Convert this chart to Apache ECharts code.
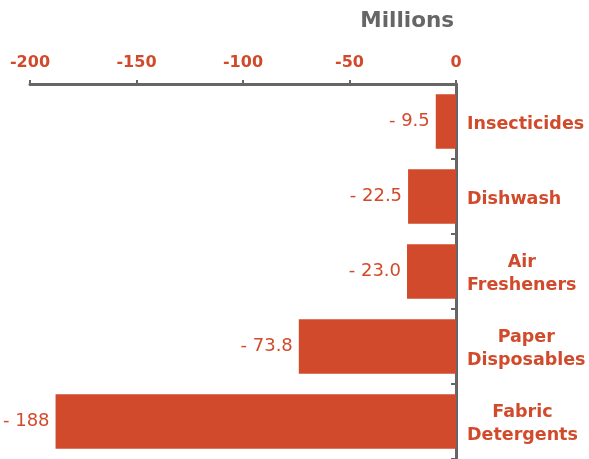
<!DOCTYPE html>
<html>
<head>
<meta charset="utf-8">
<script src="https://cdn.jsdelivr.net/npm/echarts@6/dist/echarts.min.js"></script>
<style>html,body{margin:0;padding:0;background:#fff}#c{width:589px;height:459px}</style>
</head>
<body>
<div id="c"></div>
<script>
const categories = ['Insecticides', 'Dishwash', 'Air\nFresheners', 'Paper\nDisposables', 'Fabric\nDetergents'];
const values = [-9.5, -22.5, -23.0, -73.8, -188];
const xTicks = [-200, -150, -100, -50, 0];
const titleText = 'Millions';

const RED = '#D14A2B';
const GRAY = '#666666';
const FONT = 'DejaVu Sans';

const chart = echarts.init(document.getElementById('c'), null, {renderer: 'canvas'});
chart.setOption({
  animation: false,
  title: {
    text: titleText, right: 130, top: 5,
    textStyle: {fontFamily: FONT, fontSize: 21.5, fontWeight: 'bold', color: GRAY}
  },
  grid: {left: 30, right: 133, top: 84, bottom: -4, containLabel: false},
  xAxis: {
    type: 'value', position: 'top',
    min: xTicks[0], max: xTicks[xTicks.length - 1], interval: 50,
    splitLine: {show: false},
    axisLine: {show: true, lineStyle: {color: GRAY, width: 3}},
    axisTick: {show: true, length: 4, lineStyle: {color: GRAY, width: 2}},
    axisLabel: {margin: 13, fontFamily: FONT, fontSize: 16, fontWeight: 'bold', color: RED}
  },
  yAxis: [{
    type: 'category', data: categories, inverse: true, position: 'right',
    axisLine: {show: true, lineStyle: {color: GRAY, width: 3}},
    axisTick: {show: true, inside: true, length: 5, lineStyle: {color: GRAY, width: 2}},
    axisLabel: {
      margin: 11, align: 'left', fontFamily: FONT, fontSize: 17.5, fontWeight: 'bold', color: RED,
      lineHeight: 23, padding: [5, 0, 0, 0],
      formatter: function (v) { return v.split('\n').map(function (s) { return '{c|' + s + '}'; }).join('\n'); },
      rich: {c: {align: 'center', fontFamily: FONT, fontSize: 17.5, fontWeight: 'bold', color: RED, lineHeight: 23}}
    }
  }, {
    type: 'category', data: categories, inverse: true, position: 'right',
    axisLine: {show: false},
    axisTick: {show: true, inside: true, alignWithLabel: true, length: 3, lineStyle: {color: GRAY, width: 2}},
    axisLabel: {show: false}
  }],
  series: [{
    type: 'bar', data: values, yAxisIndex: 0,
    barCategoryGap: '27.5%',
    itemStyle: {color: RED},
    label: {
      show: true, position: 'left', distance: 6,
      fontFamily: FONT, fontSize: 18, color: RED,
      formatter: function (p) {
        const a = Math.abs(p.value);
        return '- ' + (a >= 100 ? a.toFixed(0) : a.toFixed(1));
      }
    }
  }]
});
</script>
</body>
</html>
